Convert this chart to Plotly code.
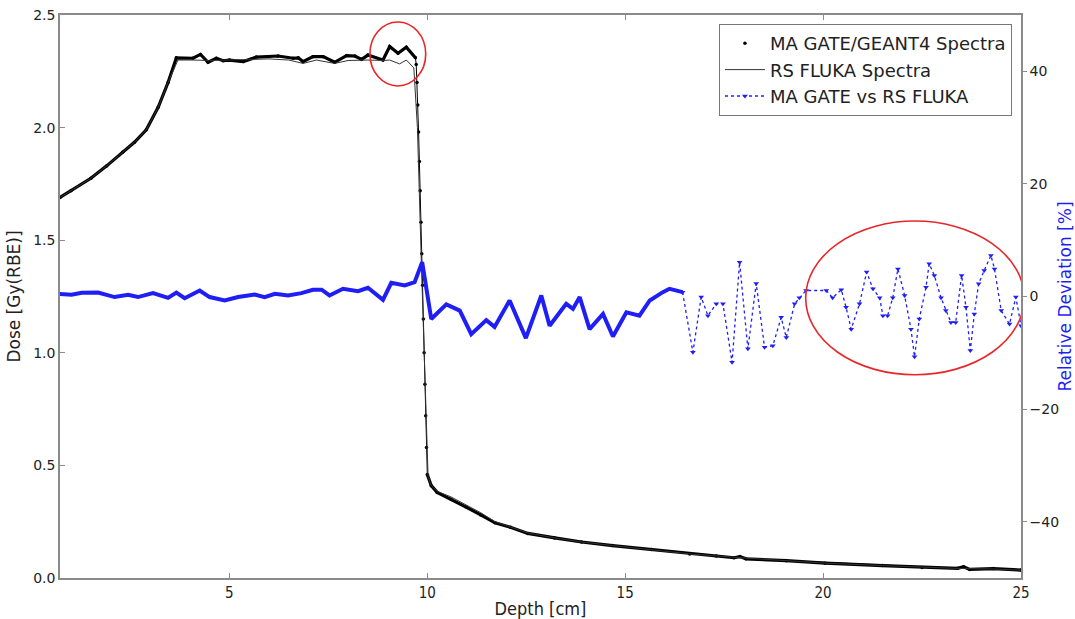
import plotly.graph_objects as go

# Dose profile, MA GATE/GEANT4 spectra (depth in cm, dose in Gy(RBE))
ma_depth = [0.72, 1.0, 1.5, 1.9, 2.3, 2.6, 2.9, 3.2, 3.45, 3.66, 4.08, 4.27, 4.46,
            4.67, 4.84, 5.0, 5.35, 5.68, 6.23, 6.61, 6.74, 6.86, 7.11, 7.37, 7.66,
            7.96, 8.17, 8.34, 8.5, 8.88, 9.05, 9.26, 9.47, 9.70,
            9.72, 9.74, 9.76, 9.78, 9.80, 9.82, 9.84, 9.86, 9.88, 9.90, 9.92, 9.94,
            9.96, 9.98, 10.0, 10.1, 10.25, 10.6, 10.98, 11.35, 11.71, 12.1, 12.54,
            13.22, 13.9, 14.68, 15.66, 16.63, 17.3, 17.75, 17.9, 18.05, 19.07,
            20.05, 21.5, 22.5, 23.4, 23.55, 23.7, 24.3, 25.0]
ma_dose = [1.69, 1.72, 1.775, 1.83, 1.89, 1.935, 1.99, 2.09, 2.2, 2.31, 2.308, 2.325,
           2.29, 2.308, 2.297, 2.30, 2.293, 2.313, 2.318, 2.308, 2.31, 2.293, 2.315,
           2.315, 2.29, 2.32, 2.318, 2.303, 2.322, 2.30, 2.36, 2.33, 2.357, 2.31,
           2.28, 2.2, 2.1, 1.98, 1.85, 1.72, 1.58, 1.44, 1.3, 1.15, 1.0, 0.86,
           0.72, 0.58, 0.46, 0.41, 0.38, 0.35, 0.315, 0.28, 0.245, 0.225, 0.198,
           0.178, 0.16, 0.144, 0.126, 0.107, 0.098, 0.09, 0.095, 0.085, 0.077,
           0.066, 0.055, 0.047, 0.043, 0.05, 0.038, 0.042, 0.035]

# Dose profile, RS FLUKA spectra
fluka_depth = [0.72, 1.0, 1.5, 1.9, 2.3, 2.6, 2.9, 3.2, 3.45, 3.7, 4.1, 4.5, 5.0,
               5.5, 6.0, 6.5, 6.86, 7.2, 7.66, 8.0, 8.5, 8.9, 9.05, 9.3, 9.47,
               9.66, 9.75, 9.85, 9.95, 10.02, 10.1, 10.25, 10.6, 10.98, 11.35,
               11.71, 12.1, 12.54, 13.22, 13.9, 14.68, 15.66, 16.63, 17.9, 19.07,
               20.05, 21.5, 22.5, 23.5, 24.3, 25.0]
fluka_dose = [1.69, 1.72, 1.775, 1.83, 1.89, 1.935, 1.99, 2.09, 2.2, 2.30, 2.30,
              2.298, 2.30, 2.302, 2.305, 2.30, 2.285, 2.30, 2.285, 2.298, 2.30,
              2.298, 2.30, 2.283, 2.30, 2.265, 2.0, 1.4, 0.8, 0.45, 0.41, 0.385,
              0.36, 0.325, 0.29, 0.25, 0.228, 0.2, 0.178, 0.16, 0.144, 0.126,
              0.107, 0.09, 0.077, 0.066, 0.055, 0.047, 0.042, 0.04, 0.035]

# Relative deviation MA GATE vs RS FLUKA [%], finely sampled part
dev_depth_fine = [0.67, 1.01, 1.27, 1.68, 2.1, 2.44, 2.69, 3.07, 3.45, 3.66, 3.87,
                  4.25, 4.5, 4.88, 5.22, 5.64, 5.89, 6.15, 6.48, 6.82, 7.11, 7.33,
                  7.53, 7.87, 8.25, 8.5, 8.88, 9.09, 9.43, 9.68, 9.87, 10.1, 10.48,
                  10.82, 11.11, 11.49, 11.7, 12.08, 12.49, 12.88, 13.09, 13.51,
                  13.68, 13.85, 14.1, 14.44, 14.69, 15.03, 15.36, 15.62, 15.95,
                  16.12, 16.45]
dev_value_fine = [0.48, 0.3, 0.66, 0.7, -0.1, 0.3, -0.1, 0.6, -0.24, 0.7, -0.3,
                  1.07, -0.1, -0.7, -0.1, 0.36, -0.1, 0.48, 0.18, 0.6, 1.2, 1.2,
                  0.18, 1.37, 0.95, 1.55, -0.6, 2.44, 1.96, 2.56, 6.1, -4.0, -1.4,
                  -2.5, -6.7, -4.2, -5.4, -0.7, -7.4, 0.18, -5.2, -1.3, -2.2, -0.1,
                  -5.8, -3.1, -7.1, -2.8, -3.4, -0.7, 0.77, 1.37, 0.77]

# Relative deviation [%], sparsely sampled distal part
dev_depth_sparse = [16.45, 16.71, 16.92, 17.09, 17.3, 17.47, 17.7, 17.89, 18.1,
                    18.31, 18.52, 18.73, 18.94, 19.07, 19.28, 19.4, 19.57, 20.08,
                    20.24, 20.46, 20.58, 20.71, 20.92, 21.1, 21.26, 21.43, 21.51,
                    21.63, 21.76, 21.89, 22.06, 22.22, 22.31, 22.43, 22.6, 22.68,
                    22.81, 22.98, 23.1, 23.23, 23.35, 23.5, 23.61, 23.72, 23.82,
                    23.93, 24.07, 24.24, 24.33, 24.5, 24.71, 24.87, 25.0]
dev_value_sparse = [0.77, -9.9, -0.1, -3.4, -1.3, -1.3, -11.7, 6.1, -9.3, 2.3,
                    -9.0, -8.75, -3.7, -7.3, -1.3, -0.24, 1.07, 1.07, -0.24, 1.2,
                    -1.9, -5.8, -1.3, 4.34, 1.37, -0.24, -3.4, -3.4, -0.24, 4.9,
                    0.18, -5.8, -10.7, -4.0, 1.66, 5.8, 3.75, -0.24, -2.5, -4.6,
                    -4.6, 3.75, -1.9, -9.6, -3.1, 2.27, 4.64, 7.3, 4.9, -2.5, -4.9,
                    -0.1, -5.2]

x_ticks = [5, 10, 15, 20, 25]
dose_ticks = [0.0, 0.5, 1.0, 1.5, 2.0, 2.5]
dev_ticks = [-40, -20, 0, 20, 40]

BLUE = "#1f1ff5"
FRAME = "#8a8a8a"

# the thick MA curve is drawn before and after the distal fall-off; the fall-off
# itself shows only as a thin line with its sample dots
fall_start = ma_depth.index(9.70)
fall_end = ma_depth.index(10.0)

fig = go.Figure()

fig.add_trace(go.Scatter(
    x=ma_depth[:fall_start + 1], y=ma_dose[:fall_start + 1], mode="lines",
    line=dict(color="black", width=3.2), legendgroup="ma", showlegend=False,
    hoverinfo="skip"))
fig.add_trace(go.Scatter(
    x=ma_depth[fall_end:], y=ma_dose[fall_end:], mode="lines",
    line=dict(color="black", width=3.2), legendgroup="ma", showlegend=False,
    hoverinfo="skip"))
fig.add_trace(go.Scatter(
    x=ma_depth, y=ma_dose, mode="lines", line=dict(color="black", width=1),
    legendgroup="ma", showlegend=False, hoverinfo="skip"))
fig.add_trace(go.Scatter(
    x=ma_depth, y=ma_dose, mode="markers", name="MA GATE/GEANT4 Spectra",
    marker=dict(color="black", size=3.5), legendgroup="ma"))

fig.add_trace(go.Scatter(
    x=fluka_depth, y=fluka_dose, mode="lines", name="RS FLUKA Spectra",
    line=dict(color="#333333", width=1)))

# Relative deviation on the secondary axis
fig.add_trace(go.Scatter(
    x=dev_depth_fine, y=dev_value_fine, mode="lines", yaxis="y2",
    line=dict(color=BLUE, width=4), legendgroup="dev", showlegend=False))
fig.add_trace(go.Scatter(
    x=dev_depth_sparse, y=dev_value_sparse, mode="lines+markers", yaxis="y2",
    name="MA GATE vs RS FLUKA", legendgroup="dev",
    line=dict(color=BLUE, width=1.3, dash="dot"),
    marker=dict(color=BLUE, size=5, symbol="triangle-down")))

# Highlight regions
fig.add_shape(type="circle", xref="x", yref="y", x0=8.55, x1=9.96, y0=2.185, y1=2.469,
              line=dict(color="#e8262a", width=1.6))
fig.add_shape(type="circle", xref="x", yref="y2", x0=19.56, x1=25.08, y0=-13.9, y1=13.4,
              line=dict(color="#e8262a", width=1.6))

tick_font = dict(family="DejaVu Sans", size=14, color="#222222")
cond_font = dict(family="DejaVu Sans Condensed, DejaVu Sans", size=15, color="#222222")

fig.update_layout(
    width=1075, height=619,
    margin=dict(l=60, r=54, t=15, b=41),
    paper_bgcolor="white", plot_bgcolor="white",
    font=dict(family="DejaVu Sans", color="#222222"),
    xaxis=dict(
        range=[0.72, 25], tickvals=x_ticks, ticks="inside", ticklen=5,
        tickcolor=FRAME, showline=True, linecolor=FRAME, linewidth=1.5,
        mirror="ticks", showgrid=False, zeroline=False, tickfont=cond_font,
        automargin=False,
        title=dict(text="Depth [cm]", standoff=4,
                   font=dict(family="DejaVu Sans Condensed, DejaVu Sans", size=18,
                             color="#222222"))),
    yaxis=dict(
        range=[0, 2.5], tickvals=dose_ticks, tickformat=".1f", ticks="inside",
        ticklen=5, tickcolor=FRAME, showline=True, linecolor=FRAME, linewidth=1.5,
        showgrid=False, zeroline=False, tickfont=tick_font, automargin=False,
        title=dict(text="Dose [Gy(RBE)]", standoff=8,
                   font=dict(family="DejaVu Sans", size=17, color="#222222"))),
    yaxis2=dict(
        range=[-50, 50], tickvals=dev_ticks, overlaying="y", side="right",
        ticks="outside", ticklen=4, tickcolor=FRAME, showline=True, linecolor=FRAME,
        linewidth=1.5, showgrid=False, zeroline=False, tickfont=tick_font,
        automargin=False,
        title=dict(text="Relative Deviation [%]", standoff=10,
                   font=dict(family="DejaVu Sans", size=17, color=BLUE))),
    legend=dict(
        x=0.9906, y=0.984, xanchor="right", yanchor="top",
        bgcolor="white", bordercolor="#777777", borderwidth=1,
        font=dict(family="DejaVu Sans", size=18, color="#222222"),
        itemwidth=40, tracegroupgap=0),
    showlegend=True,
)

fig.write_html("out.html")
